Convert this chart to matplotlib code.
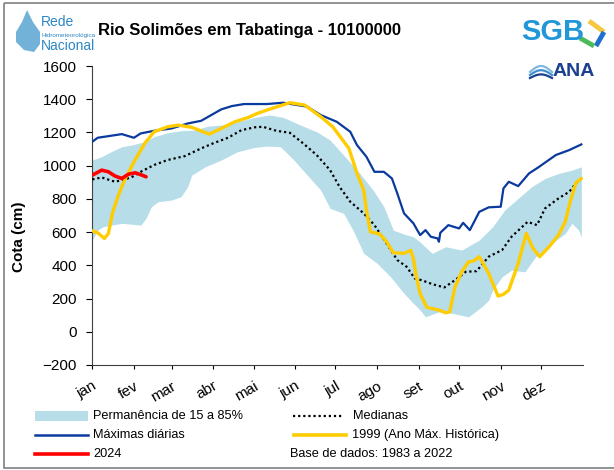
import matplotlib
matplotlib.use("Agg")
import matplotlib.pyplot as plt
from matplotlib.patches import Rectangle, Polygon
import numpy as np

plt.rcParams['font.family'] = ['Liberation Sans', 'DejaVu Sans']

# ---- data (day of year, cota in cm) ----
months = ["jan", "fev", "mar", "abr", "mai", "jun", "jul", "ago", "set", "out", "nov", "dez"]
month_start = [0, 31, 59, 90, 120, 151, 181, 212, 243, 273, 304, 334]

band_hi_days = [0, 7, 14, 22, 29, 39, 46, 56, 66, 76, 86, 96, 108, 121, 132, 142, 155, 167, 177,
                187, 199, 209, 217, 224, 232, 239, 244, 253, 263, 275, 288, 298, 307, 317, 327,
                337, 347, 357, 364]
band_hi = [1034, 1054, 1084, 1114, 1124, 1144, 1174, 1198, 1210, 1214, 1238, 1244, 1264, 1291,
           1305, 1291, 1244, 1204, 1154, 1064, 954, 853, 753, 612, 588, 572, 540, 472, 512, 492,
           552, 632, 733, 803, 873, 923, 953, 973, 993]

band_lo_days = [0, 4, 8, 14, 22, 29, 36, 40, 44, 49, 59, 66, 71, 74, 84, 96, 108, 121, 130, 140,
                150, 160, 170, 177, 187, 194, 202, 212, 222, 232, 239, 244, 248, 258, 268, 280,
                290, 295, 298, 305, 312, 322, 330, 342, 352, 357, 362, 364]
band_lo = [552, 612, 632, 642, 653, 648, 642, 683, 753, 783, 793, 813, 873, 943, 993, 1034, 1084,
           1110, 1118, 1114, 1034, 943, 853, 743, 713, 612, 472, 412, 331, 231, 171, 131, 90, 120,
           111, 90, 151, 191, 251, 331, 371, 361, 452, 532, 592, 653, 612, 572]

med_days = [0, 7, 17, 29, 36, 46, 56, 69, 81, 91, 101, 111, 121, 127, 137, 147, 157, 167, 177,
            184, 192, 202, 210, 219, 227, 234, 240, 245, 253, 262, 270, 278, 286, 295, 305, 312,
            324, 331, 337, 347, 355, 362, 364]
medianas = [917, 929, 903, 929, 963, 1004, 1034, 1058, 1104, 1138, 1168, 1214, 1231, 1234, 1210,
            1198, 1134, 1064, 973, 873, 783, 713, 642, 532, 432, 391, 321, 311, 287, 267, 311,
            361, 365, 452, 492, 572, 662, 642, 743, 803, 843, 913, 920]

max_days = [0, 4, 22, 31, 36, 46, 59, 71, 81, 96, 104, 113, 121, 130, 142, 160, 170, 182, 192,
            197, 204, 210, 217, 223, 227, 232, 239, 244, 248, 252, 257, 258, 259, 265, 273, 276,
            281, 288, 295, 304, 306, 310, 317, 325, 332, 345, 355, 364]
maximas = [1144, 1168, 1190, 1168, 1194, 1210, 1224, 1254, 1270, 1339, 1359, 1371, 1371, 1371,
           1379, 1355, 1305, 1264, 1204, 1124, 1054, 963, 963, 923, 833, 713, 653, 582, 612, 572,
           562, 542, 596, 642, 622, 656, 612, 722, 749, 753, 863, 903, 877, 953, 990, 1064,
           1094, 1128]

y1999_days = [0, 4, 9, 12, 15, 19, 24, 31, 39, 46, 56, 64, 74, 87, 96, 106, 116, 123, 130, 147,
              158, 170, 179, 191, 197, 202, 204, 207, 214, 219, 224, 232, 237, 239, 241, 244,
              249, 258, 263, 266, 270, 275, 280, 284, 288, 295, 302, 306, 310, 317, 323, 328,
              333, 340, 347, 352, 356, 360, 364]
y1999 = [608, 596, 562, 592, 713, 813, 913, 1023, 1134, 1204, 1234, 1244, 1231, 1190, 1224, 1264,
         1290, 1315, 1335, 1379, 1365, 1295, 1234, 1104, 954, 853, 733, 602, 588, 542, 476, 472,
         490, 440, 340, 230, 147, 131, 114, 120, 271, 361, 421, 427, 452, 352, 215, 225, 251,
         412, 592, 502, 452, 512, 582, 662, 793, 897, 923]

y2024_days = [0, 4, 7, 12, 17, 22, 27, 32, 37, 40]
y2024 = [943, 960, 973, 963, 937, 923, 949, 957, 943, 933]

# ---- figure ----
fig = plt.figure(figsize=(6.14, 4.70), dpi=100)
ax = fig.add_axes([92.3 / 614, 1 - 365 / 470, 490.4 / 614, 299 / 470])

# band drawn on a common day grid
grid = np.arange(0, 365)
hi = np.interp(grid, band_hi_days, band_hi)
lo = np.interp(grid, band_lo_days, band_lo)
ax.fill_between(grid, lo, hi, color="#b7dde8", lw=0, zorder=1)
ax.plot(med_days, medianas, color="black", lw=1.6, ls=(0, (1, 1.3)), zorder=3)
ax.plot(max_days, maximas, color="#0a3a9e", lw=1.6, zorder=4)
ax.plot(y1999_days, y1999, color="#ffcc00", lw=2.4, zorder=5, solid_capstyle="round")
ax.plot(y2024_days, y2024, color="#ff0000", lw=2.6, zorder=6, solid_capstyle="round")

ax.set_xlim(0, 365)
ax.set_ylim(-200, 1600)
ax.set_yticks(np.arange(-200, 1601, 200))
ax.set_xticks(month_start)
ax.set_xticklabels(months, rotation=30, ha="right", rotation_mode="anchor")
ax.tick_params(axis="y", direction="out", length=4, width=0.8, pad=7, labelsize=11)
ax.tick_params(axis="x", direction="out", length=3, width=0.8, pad=7, labelsize=11)
for s in ["top", "right"]:
    ax.spines[s].set_visible(False)
for s in ["left", "bottom"]:
    ax.spines[s].set_linewidth(0.8)
    ax.spines[s].set_color("#404040")
ax.set_ylabel("Cota (cm)", fontsize=11, fontweight="bold")
ax.yaxis.set_label_coords(-0.135, 0.43)

# ---- overlay in pixel coordinates: title, logos, legend, frame ----
ov = fig.add_axes([0, 0, 1, 1])
ov.set_xlim(0, 614)
ov.set_ylim(470, 0)
ov.axis("off")

ov.add_patch(Rectangle((4, 3), 640, 465, fill=False, ec="#808080", lw=1.2))
ov.text(250, 30, "Rio Solimões em Tabatinga - 10100000", fontsize=12, fontweight="bold",
        ha="center", va="center")

# Rede Hidrometeorológica Nacional logo
drop = [(27, 10), (33, 22), (40, 32), (40, 44), (34, 52), (24, 50), (16, 42), (16, 32), (22, 22)]
ov.add_patch(Polygon(drop, closed=True, fc="#4f9fcf", ec="none", alpha=0.8))
ov.text(41, 22, "Rede", fontsize=10, color="#2b86c5", va="center", ha="left")
ov.text(41, 36, "Hidrometeorológica", fontsize=4.5, color="#2b86c5", va="center", ha="left")
ov.text(41, 46, "Nacional", fontsize=10, color="#2b86c5", va="center", ha="left")

# SGB logo
ov.text(521, 32, "SGB", fontsize=21, fontweight="bold", color="#2196d8", va="center", ha="left")
ov.plot([589, 604], [21, 32], color="#f6c744", lw=3.5, solid_capstyle="butt")
ov.plot([604, 596], [32, 46], color="#1f6fd1", lw=3.5, solid_capstyle="butt")
ov.plot([580, 594], [38, 46], color="#4cbb5a", lw=3.5, solid_capstyle="butt")

# ANA logo
wx = np.linspace(530, 552, 20)
for k, c in enumerate(["#7fb8e0", "#3d8fcf", "#1d3f8f"]):
    ov.plot(wx, 72 + 3 * k - 6 * np.sin((wx - 530) / 22 * np.pi) * (1 - 0.2 * k), color=c, lw=1.6)
ov.text(553, 72, "ANA", fontsize=14, fontweight="bold", color="#1d3f8f", va="center", ha="left")

# legend
ov.add_patch(Rectangle((35, 411), 53, 10, fc="#b7dde8", ec="none"))
ov.plot([35, 88], [435, 435], color="#0a3a9e", lw=1.8)
ov.plot([35, 88], [454, 454], color="#ff0000", lw=2.6)
ov.plot([293, 343], [416, 416], color="black", lw=1.6, ls=(0, (1, 1.3)))
ov.plot([294, 346], [435, 435], color="#ffcc00", lw=2.6)
leg_fs = 9.2
ov.text(93, 416, "Permanência de 15 a 85%", fontsize=leg_fs, va="center")
ov.text(93, 435, "Máximas diárias", fontsize=leg_fs, va="center")
ov.text(93, 454, "2024", fontsize=leg_fs, va="center")
ov.text(353, 416, "Medianas", fontsize=leg_fs, va="center")
ov.text(352, 435, "1999 (Ano Máx. Histórica)", fontsize=leg_fs, va="center")
ov.text(290, 454, "Base de dados: 1983 a 2022", fontsize=leg_fs, va="center")

fig.savefig("out.png", dpi=100)
